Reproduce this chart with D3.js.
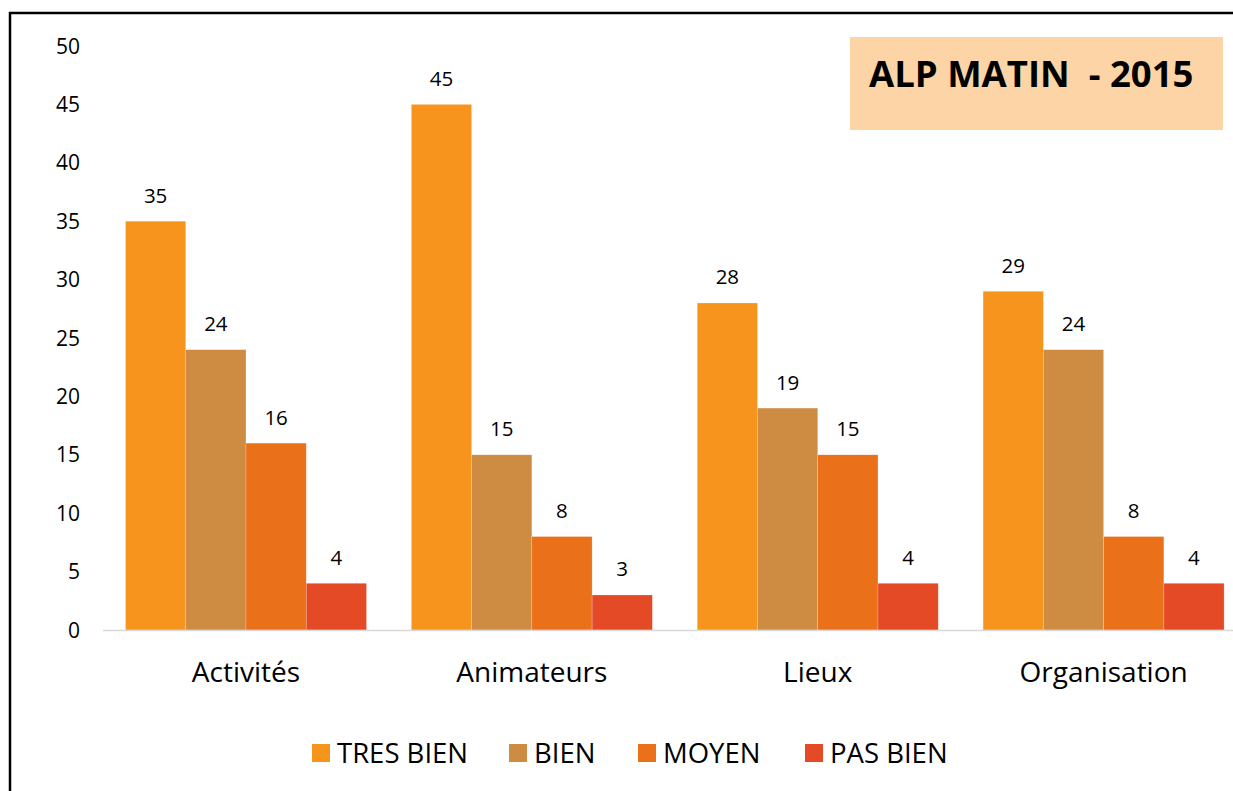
<!DOCTYPE html>
<html>
<head>
<meta charset="utf-8">
<script src="https://cdn.jsdelivr.net/npm/d3@7"></script>
<style>
  body { margin: 0; background: #fff; }
  svg text { font-family: "Open Sans", sans-serif; fill: #000; }
</style>
</head>
<body>
<div id="chart"></div>
<script>
const categories = ["Activités", "Animateurs", "Lieux", "Organisation"];
const seriesNames = ["TRES BIEN", "BIEN", "MOYEN", "PAS BIEN"];
const tresBien = [35, 45, 28, 29];
const bien = [24, 15, 19, 24];
const moyen = [16, 8, 15, 8];
const pasBien = [4, 3, 4, 4];
const yTicks = [0, 5, 10, 15, 20, 25, 30, 35, 40, 45, 50];
const colors = ["#f7941e", "#ce8b42", "#ea7019", "#e44a25"];
const title = "ALP MATIN  - 2015";

const width = 1233, height = 791;
const series = [tresBien, bien, moyen, pasBien];

let svg = d3.select("#chart").append("svg")
  .attr("width", width)
  .attr("height", height);

// frame (right/bottom edges fall outside the picture)
svg.append("path")
  .attr("d", `M10,${height + 5} V13 H${width + 5}`)
  .attr("fill", "none")
  .attr("stroke", "#000")
  .attr("stroke-width", 2.5);

let x0 = d3.scaleBand()
  .domain(categories)
  .range([103, 1246.6])
  .paddingInner(0.157)
  .paddingOuter(0.0787);

let x1 = d3.scaleBand()
  .domain(seriesNames)
  .range([0, x0.bandwidth()]);

let y = d3.scaleLinear()
  .domain([0, 50])
  .range([630, 46]);

// y tick labels
svg.append("g")
  .selectAll("text")
  .data(yTicks)
  .join("text")
  .attr("x", 80)
  .attr("y", d => y(d))
  .attr("dy", "0.36em")
  .attr("text-anchor", "end")
  .style("font-size", "21px")
  .text(d => d);

// bars
let groups = svg.append("g")
  .selectAll("g")
  .data(categories)
  .join("g")
  .attr("transform", d => `translate(${x0(d)},0)`);

groups.selectAll("rect")
  .data((c, i) => seriesNames.map((s, j) => ({ s, j, v: series[j][i] })))
  .join("rect")
  .attr("x", d => x1(d.s))
  .attr("y", d => y(d.v))
  .attr("width", x1.bandwidth())
  .attr("height", d => y(0) - y(d.v))
  .attr("fill", d => colors[d.j])
  .attr("stroke", "#fff")
  .attr("stroke-opacity", 0.35)
  .attr("stroke-width", 0.6);

groups.selectAll("text")
  .data((c, i) => seriesNames.map((s, j) => ({ s, j, v: series[j][i] })))
  .join("text")
  .attr("x", d => x1(d.s) + x1.bandwidth() / 2)
  .attr("y", d => y(d.v) - 18.5)
  .attr("text-anchor", "middle")
  .style("font-size", "20.5px")
  .text(d => d.v);

// x axis line
svg.append("line")
  .attr("x1", 103).attr("x2", width)
  .attr("y1", y(0) + 0.5).attr("y2", y(0) + 0.5)
  .attr("stroke", "#d9d9d9")
  .attr("stroke-width", 1.5);

// category labels
svg.append("g")
  .selectAll("text")
  .data(categories)
  .join("text")
  .attr("x", d => x0(d) + x0.bandwidth() / 2)
  .attr("y", 672)
  .attr("dy", "0.36em")
  .attr("text-anchor", "middle")
  .style("font-size", "28px")
  .text(d => d);

// title box
svg.append("rect")
  .attr("x", 850).attr("y", 37)
  .attr("width", 373).attr("height", 93)
  .attr("fill", "#fcd4a5");

svg.append("text")
  .attr("x", 869)
  .attr("y", 87)
  .attr("xml:space", "preserve")
  .style("white-space", "pre")
  .style("font-size", "36.5px")
  .style("font-weight", "bold")
  .text(title);

// legend
const legendX = [312, 509, 638, 805];
let legend = svg.append("g")
  .selectAll("g")
  .data(seriesNames)
  .join("g")
  .attr("transform", (d, i) => `translate(${legendX[i]},744)`);

legend.append("rect")
  .attr("width", 18).attr("height", 18)
  .attr("fill", (d, i) => colors[i]);

legend.append("text")
  .attr("x", 25)
  .attr("y", 9)
  .attr("dy", "0.36em")
  .style("font-size", "27.5px")
  .text(d => d);
</script>
</body>
</html>
